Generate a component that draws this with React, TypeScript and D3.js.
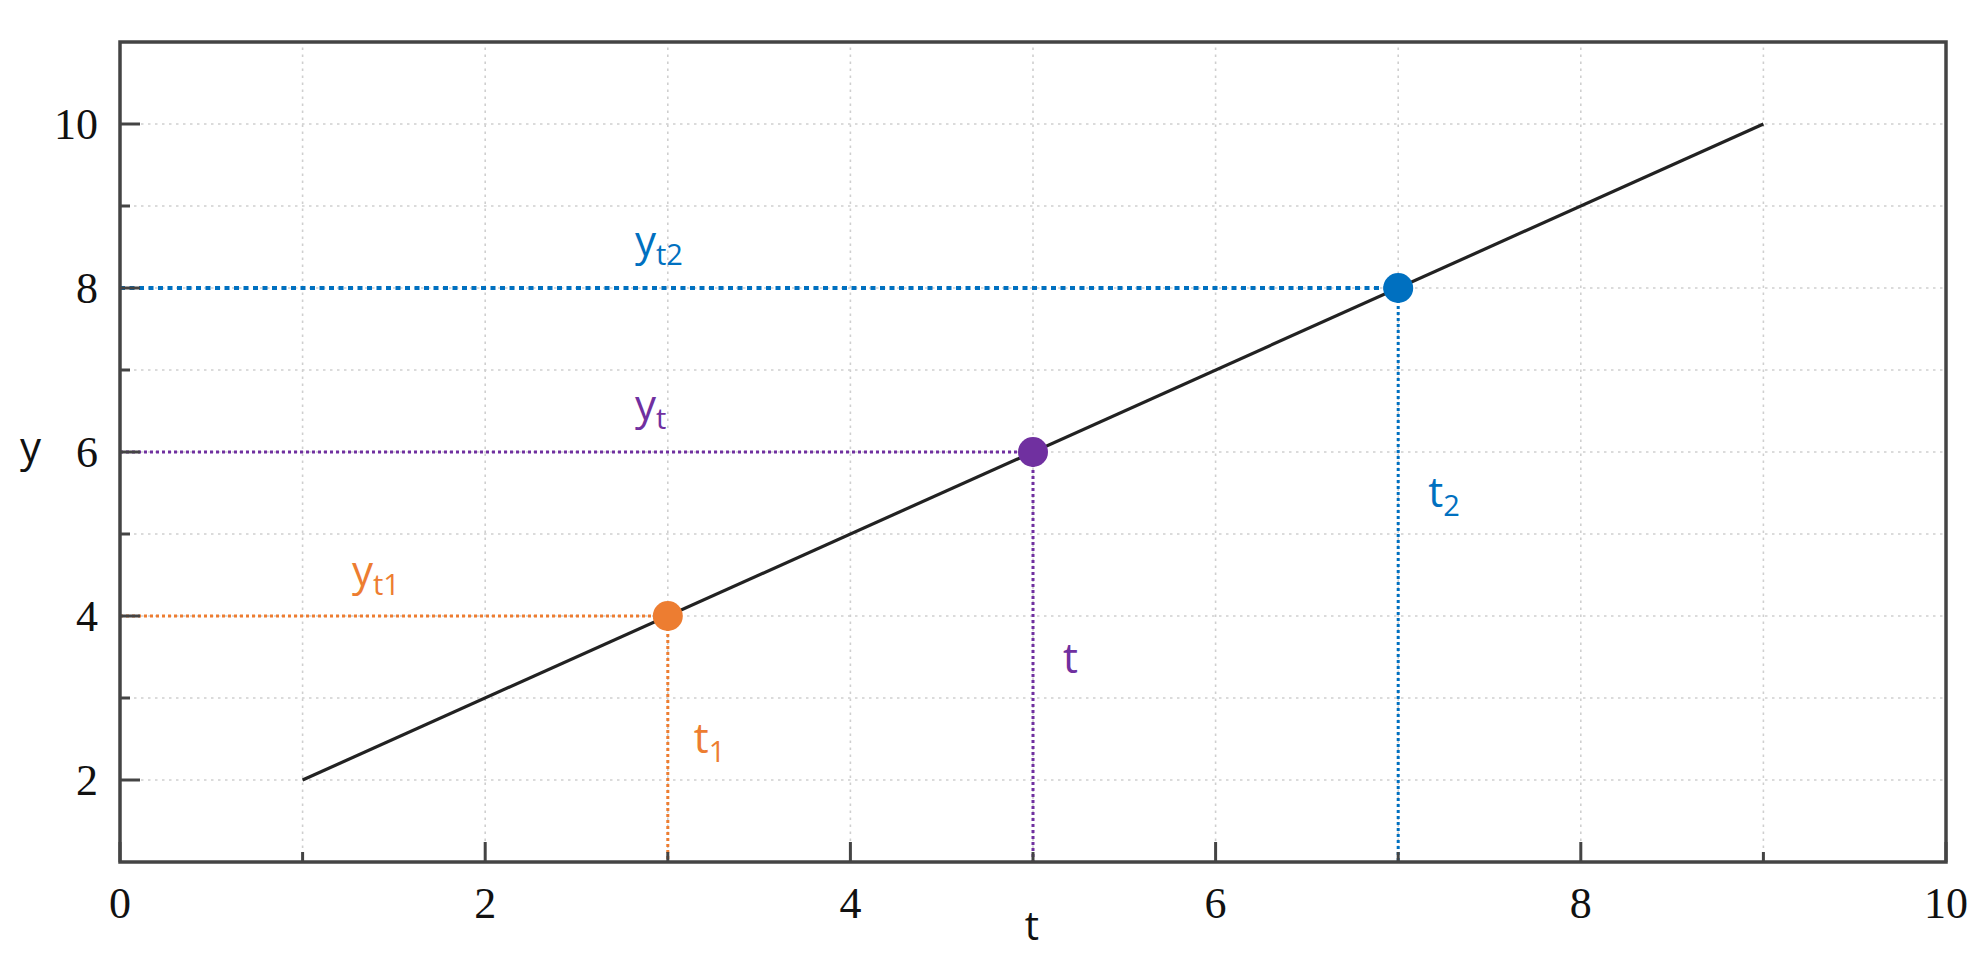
import React from "react";
import * as d3 from "d3";

const W = 1986;
const H = 954;

const xTickValues = [0, 2, 4, 6, 8, 10];
const xMinorValues = [1, 3, 5, 7, 9];
const yTickValues = [2, 4, 6, 8, 10];
const yMinorValues = [3, 5, 7, 9];
const gridX = [1, 2, 3, 4, 5, 6, 7, 8, 9];
const gridY = [2, 3, 4, 5, 6, 7, 8, 9, 10];

const lineT = [1, 9];
const lineY = [2, 10];

const pointNames = ["p1", "p", "p2"];
const pointT = [3, 5, 7];
const pointY = [4, 6, 8];
const pointColors = ["#ED7D31", "#7030A0", "#0070C0"];
const yLabelMain = ["y", "y", "y"];
const yLabelSub = ["t1", "t", "t2"];
const tLabelMain = ["t", "t", "t"];
const tLabelSub = ["1", "", "2"];

const margin = { left: 120, right: 40, top: 42, bottom: 92 };

export default function App() {
  const x = d3.scaleLinear().domain([0, 10]).range([margin.left, W - margin.right]);
  const y = d3.scaleLinear().domain([1, 11]).range([H - margin.bottom, margin.top]);
  const x0 = x(0), x1 = x(10), y0 = y(1), y1 = y(11);
  const line = d3.line<number>().x((_, i) => x(lineT[i])).y((d) => y(d));

  const axisColor = "#444";
  const serif = "'Liberation Serif', 'Times New Roman', serif";
  const sans = "'Open Sans', 'Noto Sans', sans-serif";

  // label placements
  const yLabelX = [x(1.27), x(2.82), x(2.82)];
  const yLabelYoff = [-30, -32, -32];
  const tLabelDx = [26, 30, 30];
  const tLabelY = [y(2.33), y(3.3), y(5.33)];

  return (
    <svg width={W} height={H} style={{ position: "absolute", left: 0, top: 0, background: "#fff" }}>
      {/* grid */}
      <g stroke="#cfcfcf" strokeWidth={1.6} strokeDasharray="2.5,4.5">
        {gridX.map((v) => (
          <line key={"gx" + v} x1={x(v)} x2={x(v)} y1={y0} y2={y1} />
        ))}
        {gridY.map((v) => (
          <line key={"gy" + v} x1={x0} x2={x1} y1={y(v)} y2={y(v)} />
        ))}
      </g>

      {/* reference dotted lines */}
      {pointNames.map((n, i) => (
        <g key={"ref" + n} stroke={pointColors[i]} fill="none">
          <line
            x1={x0}
            x2={x(pointT[i])}
            y1={y(pointY[i])}
            y2={y(pointY[i])}
            strokeWidth={i === 2 ? 4 : 3}
            strokeDasharray={i === 2 ? "5,4.5" : "3,3"}
          />
          <line
            x1={x(pointT[i])}
            x2={x(pointT[i])}
            y1={y(pointY[i])}
            y2={y0}
            strokeWidth={3}
            strokeDasharray="3,3"
          />
        </g>
      ))}

      {/* main line */}
      <path d={line(lineY) || ""} stroke="#222" strokeWidth={3.2} fill="none" />

      {/* points */}
      {pointNames.map((n, i) => (
        <circle key={"pt" + n} cx={x(pointT[i])} cy={y(pointY[i])} r={15} fill={pointColors[i]} />
      ))}

      {/* frame */}
      <rect x={x0} y={y1} width={x1 - x0} height={y0 - y1} fill="none" stroke={axisColor} strokeWidth={3.5} />

      {/* ticks */}
      <g stroke={axisColor} strokeWidth={3}>
        {yTickValues.map((v) => (
          <line key={"yt" + v} x1={x0} x2={x0 + 20} y1={y(v)} y2={y(v)} />
        ))}
        {yMinorValues.map((v) => (
          <line key={"ym" + v} x1={x0} x2={x0 + 10} y1={y(v)} y2={y(v)} />
        ))}
        {xTickValues.map((v) => (
          <line key={"xt" + v} x1={x(v)} x2={x(v)} y1={y0} y2={y0 - 20} />
        ))}
        {xMinorValues.map((v) => (
          <line key={"xm" + v} x1={x(v)} x2={x(v)} y1={y0} y2={y0 - 10} />
        ))}
      </g>

      {/* tick labels */}
      <g fontFamily={serif} fontSize={44} fill="#111">
        {xTickValues.map((v) => (
          <text key={"xl" + v} x={x(v)} y={918} textAnchor="middle">
            {v}
          </text>
        ))}
        {yTickValues.map((v) => (
          <text key={"yl" + v} x={98} y={y(v) + 15} textAnchor="end">
            {v}
          </text>
        ))}
      </g>

      {/* axis titles */}
      <text x={1032} y={940} fontFamily={sans} fontSize={40} textAnchor="middle" fill="#111">
        t
      </text>
      <text x={20} y={462} fontFamily={sans} fontSize={42} fill="#111">
        y
      </text>

      {/* y labels */}
      {pointNames.map((n, i) => (
        <text key={"ylab" + n} x={yLabelX[i]} y={y(pointY[i]) + yLabelYoff[i]} fontFamily={sans} fontSize={42} fill={pointColors[i]}>
          {yLabelMain[i]}
          <tspan fontSize={29} dy={9}>
            {yLabelSub[i]}
          </tspan>
        </text>
      ))}

      {/* t labels */}
      {pointNames.map((n, i) => (
        <text key={"tlab" + n} x={x(pointT[i]) + tLabelDx[i]} y={tLabelY[i]} fontFamily={sans} fontSize={42} fill={pointColors[i]}>
          {tLabelMain[i]}
          {tLabelSub[i] ? (
            <tspan fontSize={29} dy={9}>
              {tLabelSub[i]}
            </tspan>
          ) : null}
        </text>
      ))}
    </svg>
  );
}
